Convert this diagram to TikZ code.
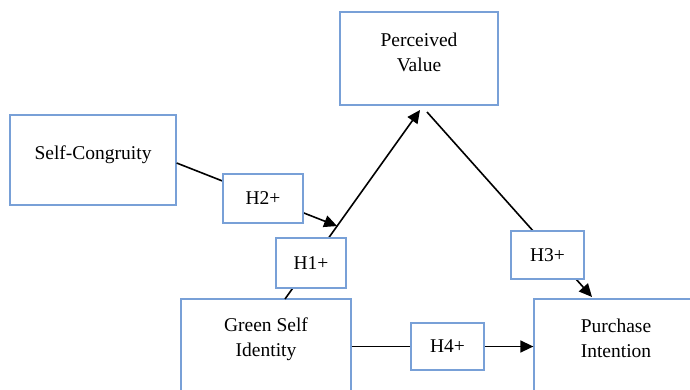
\documentclass[tikz,border=0pt]{standalone}
\usepackage{fontspec}
\setmainfont{Liberation Serif}
\usetikzlibrary{arrows.meta,calc}
\definecolor{boxblue}{RGB}{120,160,215}
\begin{document}
\begin{tikzpicture}[x=1pt,y=-1pt,
  box/.style={draw=boxblue, line width=1.3pt, fill=white, inner sep=0pt,
    font=\fontsize{19.5}{25}\selectfont, align=center},
  conn/.style={line width=1.6pt, black},
  arr/.style={conn, -{Triangle[length=13pt,width=12pt]}},
  lbl/.style={font=\fontsize{19.5}{25}\selectfont, align=center, inner sep=0pt}]
\useasboundingbox (0,0) rectangle (690,389);
\clip (0,0) rectangle (690,389);
% main boxes
\node[box, minimum width=158pt, minimum height=93pt] (pv) at (419,58.5) {};
\node[box, minimum width=166pt, minimum height=90pt] (sc) at (93,160) {};
\node[box, minimum width=170pt, minimum height=131pt] (gsi) at (266,364.5) {};
\node[box, minimum width=186pt, minimum height=131pt] (pi) at (627,364.5) {};
\node[lbl] (pvt) at (419,52.5) {Perceived\\Value};
\node[lbl] (sct) at (93,155) {Self-Congruity};
\node[lbl] (gsit) at (266,339) {Green Self\\Identity};
\node[lbl] (pit) at (616,338) {Purchase\\Intention};
% connector end points
\coordinate (gsiT) at (285,299);
\coordinate (pvB) at (420,110);
\coordinate (j) at ($(gsiT)!0.386!(pvB)$);
\coordinate (scR) at ($(sc.east)+(0,3)$);
\coordinate (pvB2) at (427,112);
\coordinate (piT) at (592,297);
% connectors
\draw[arr] (gsiT) -- (pvB);
\draw[arr] (scR) -- (j);
\draw[arr] (pvB2) -- (piT);
\draw[arr] (gsi.east |- 0,346.5) -- (pi.west |- 0,346.5);
% hypothesis boxes
\node[box, minimum width=80pt, minimum height=49pt] (h2) at (263,198.5) {H2+};
\node[box, minimum width=70pt, minimum height=50pt] (h1) at (311,263) {H1+};
\node[box, minimum width=73pt, minimum height=48pt] (h3) at (547.5,255) {H3+};
\node[box, minimum width=73pt, minimum height=47pt] (h4) at (447.5,346.5) {H4+};
\end{tikzpicture}
\end{document}
